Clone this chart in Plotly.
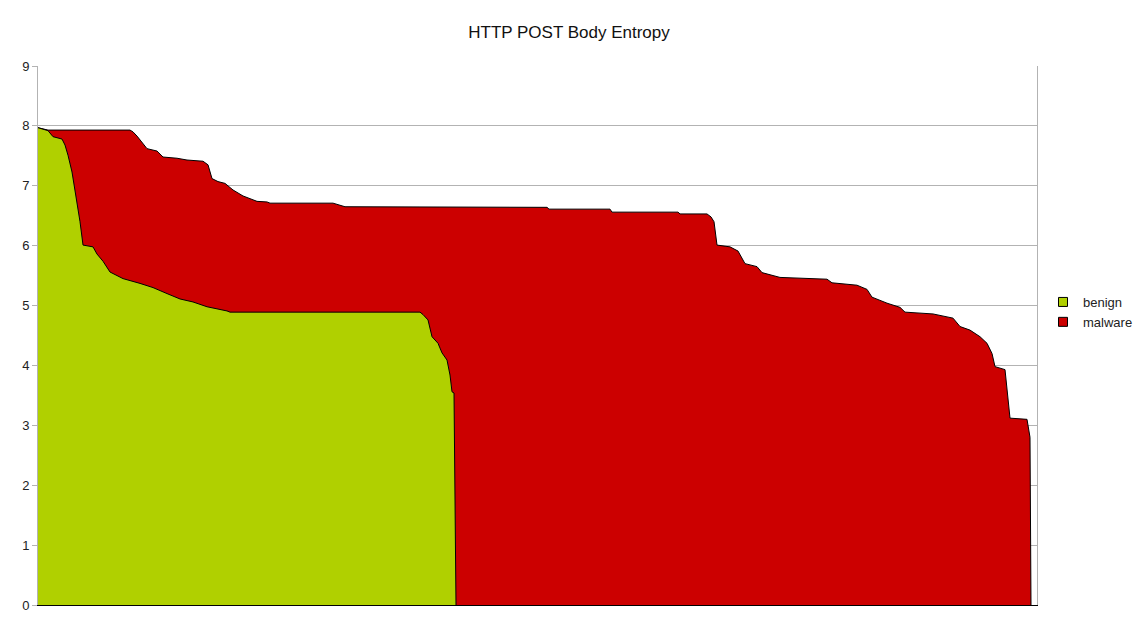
import plotly.graph_objects as go

# samples sorted by entropy, x = sample rank (0..999)
benign_rank = [0, 10, 15, 24, 27, 30, 34, 39, 42, 45, 55, 59, 65, 72, 85, 102,
               115, 129, 142, 155, 169, 189, 192, 382, 385, 390, 394, 400, 404,
               409, 412, 414, 416, 418]
benign_entropy = [7.97, 7.92, 7.82, 7.78, 7.68, 7.51, 7.23, 6.73, 6.40, 6.01,
                  5.98, 5.86, 5.74, 5.56, 5.45, 5.37, 5.30, 5.20, 5.11, 5.06, 4.98,
                  4.91, 4.89, 4.89, 4.85, 4.76, 4.48, 4.37, 4.21, 4.09, 3.84, 3.56,
                  3.54, 0.0]

malware_rank = [0, 10, 92, 95, 99, 104, 109, 119, 125, 139, 149, 165, 170, 174, 180,
                187, 195, 205, 219, 229, 232, 295, 307, 509, 511, 572, 574, 640,
                642, 669, 673, 676, 679, 692, 700, 707, 719, 724, 742, 789, 794,
                819, 829, 834, 849, 862, 867, 895, 915, 922, 932, 942, 949, 954,
                957, 967, 972, 989, 991, 992, 993]
malware_entropy = [7.97, 7.93, 7.93, 7.90, 7.83, 7.73, 7.62, 7.58, 7.48, 7.46, 7.43,
                   7.41, 7.35, 7.12, 7.07, 7.04, 6.93, 6.83, 6.74, 6.73, 6.71, 6.71,
                   6.65, 6.64, 6.61, 6.61, 6.56, 6.56, 6.53, 6.53, 6.48, 6.40, 6.01,
                   5.98, 5.91, 5.70, 5.65, 5.55, 5.47, 5.44, 5.38, 5.34, 5.27, 5.14,
                   5.04, 4.97, 4.89, 4.86, 4.79, 4.65, 4.59, 4.48, 4.37, 4.20, 3.98,
                   3.93, 3.12, 3.10, 2.92, 2.80, 0.0]

GREEN = '#b0d000'
RED = '#cc0000'
FONT = 'Liberation Sans, Arial, sans-serif'

fig = go.Figure()

# malware behind, benign on top
fig.add_trace(go.Scatter(x=malware_rank, y=malware_entropy, mode='lines',
                         fill='tozeroy', fillcolor=RED,
                         line=dict(color='black', width=1),
                         showlegend=False, hoverinfo='skip'))
fig.add_trace(go.Scatter(x=benign_rank, y=benign_entropy, mode='lines',
                         fill='tozeroy', fillcolor=GREEN,
                         line=dict(color='black', width=1),
                         showlegend=False, hoverinfo='skip'))

# legend squares
for name, col in [('benign', GREEN), ('malware', RED)]:
    fig.add_trace(go.Scatter(x=[None], y=[None], mode='markers', name=name,
                             marker=dict(symbol='square', size=9, color=col,
                                         line=dict(color='black', width=1))))

fig.update_layout(
    width=1138, height=626,
    margin=dict(l=38, r=101, t=66, b=21),
    paper_bgcolor='white', plot_bgcolor='white',
    font=dict(family=FONT, size=13, color='#222222'),
    title=dict(text='HTTP POST Body Entropy', x=0.5, xanchor='center',
               y=0.949, yanchor='middle', font=dict(size=17, color='#111111')),
    legend=dict(xref='container', yref='container', x=1043 / 1138, y=1 - 312 / 626,
                xanchor='left', yanchor='middle',
                font=dict(size=13), itemwidth=30, tracegroupgap=0,
                bgcolor='rgba(0,0,0,0)'),
    showlegend=True,
)
fig.update_xaxes(range=[0, 999], showticklabels=False, showgrid=False,
                 zeroline=False, showline=True, linecolor='black', linewidth=1,
                 ticks='', automargin=False)
fig.update_yaxes(range=[0, 9], dtick=1, showgrid=True, gridcolor='#b3b3b3',
                 gridwidth=1, zeroline=False, showline=True, linecolor='#b3b3b3',
                 linewidth=1, mirror=True, ticks='outside', ticklen=5,
                 tickcolor='#b3b3b3', tickfont=dict(size=13), automargin=False)

fig.write_html("out.html", config={'displayModeBar': False},
               post_script="document.body.style.margin='0';")
